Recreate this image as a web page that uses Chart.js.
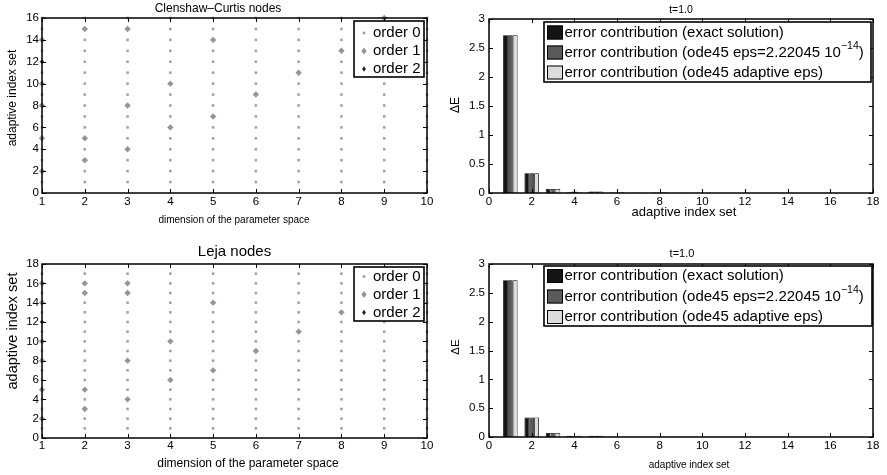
<!DOCTYPE html>
<html><head><meta charset="utf-8">
<script src="https://cdn.jsdelivr.net/npm/chart.js@4.4.0/dist/chart.umd.min.js"></script>
<style>
html,body{margin:0;padding:0;background:#fff}
#wrap{position:relative;width:887px;height:475px;overflow:hidden;background:#fff}
canvas{position:absolute;left:0;top:0}
</style></head><body>
<div id="wrap">
<canvas id="c1" width="887" height="475"></canvas>
<canvas id="c2" width="887" height="475"></canvas>
<canvas id="c3" width="887" height="475"></canvas>
<canvas id="c4" width="887" height="475"></canvas>
</div>
<script>
// ---------------- data ----------------
const dims = [1, 2, 3, 4, 5, 6, 7, 8, 9, 10];
const ccIndexSets = [1, 2, 3, 4, 5, 6, 7, 8, 9, 10, 11, 12, 13, 14, 15, 16];
const lejaIndexSets = [1, 2, 3, 4, 5, 6, 7, 8, 9, 10, 11, 12, 13, 14, 15, 16, 17];
// [dimension, adaptive index] where the multi-index has order 1 / order 2
const ccOrder1 = [[1,2],[2,3],[3,4],[1,5],[2,5],[4,6],[5,7],[1,8],[3,8],[6,9],[1,10],[4,10],[7,11],[8,13],[1,14],[5,14],[2,15],[3,15],[9,16]];
const ccOrder2 = [[1,12]];
const lejaOrder1 = [[1,2],[2,3],[3,4],[1,5],[2,5],[4,6],[5,7],[1,8],[3,8],[6,9],[1,10],[4,10],[7,11],[8,13],[1,14],[5,14],[2,15],[3,15],[1,16],[2,16],[3,16],[9,17]];
const lejaOrder2 = [[1,12]];
const scatterLabels = ['order 0', 'order 1', 'order 2'];

const ccErrExact    = [2.72, 0.34, 0.07, 0.015, 0.025, 0.008, 0.003, 0.008, 0.002, 0.002, 0.002, 0.002, 0.002, 0.002, 0.002, 0.002];
const ccErrOdeEps   = [2.72, 0.34, 0.07, 0.025, 0.025, 0.008, 0.003, 0.008, 0.002, 0.002, 0.002, 0.002, 0.002, 0.002, 0.002, 0.002];
const ccErrOdeAdapt = [2.72, 0.34, 0.07, 0.015, 0.025, 0.012, 0.006, 0.012, 0.003, 0.002, 0.002, 0.002, 0.002, 0.002, 0.002, 0.002];
const lejaErrExact    = [2.72, 0.34, 0.07, 0.02, 0.02, 0.005, 0.003, 0.002, 0.002, 0.002, 0.002, 0.002, 0.002, 0.002, 0.002, 0.002, 0.002];
const lejaErrOdeEps   = [2.72, 0.34, 0.07, 0.015, 0.02, 0.005, 0.003, 0.002, 0.002, 0.002, 0.002, 0.002, 0.002, 0.002, 0.002, 0.002, 0.002];
const lejaErrOdeAdapt = [2.72, 0.34, 0.07, 0.02, 0.02, 0.006, 0.003, 0.003, 0.002, 0.002, 0.002, 0.002, 0.002, 0.002, 0.002, 0.002, 0.002];
const barLabels = ['error contribution (exact solution)', 'error contribution (ode45 eps=2.22045 10^{\u221214})', 'error contribution (ode45 adaptive eps)'];
const barColors = ['#141414', '#5a5a5a', '#dcdcdc'];

// ---------------- helpers ----------------
const FONT = '"Liberation Sans", Arial, Helvetica, sans-serif';
const W = 887, H = 475;

function toPts(list) { return list.map(p => ({x: p[0], y: p[1]})); }
function order0(indexSets, o1, o2) {
  const taken = new Set(o1.concat(o2).map(p => p[0] + ',' + p[1]));
  const pts = [];
  dims.forEach(d => indexSets.forEach(k => { if (!taken.has(d + ',' + k)) pts.push({x: d, y: k}); }));
  return pts;
}

function drawRich(ctx, str, x, y, size) {
  const parts = str.split(/(\^\{[^}]*\})/);
  let cx = x;
  parts.forEach(p => {
    if (!p) return;
    if (p.startsWith('^{')) {
      const s = p.slice(2, -1);
      ctx.font = (size * 0.7) + 'px ' + FONT;
      ctx.fillText(s, cx, y - size * 0.42);
      cx += ctx.measureText(s).width;
    } else {
      ctx.font = size + 'px ' + FONT;
      ctx.fillText(p, cx, y);
      cx += ctx.measureText(p).width;
    }
  });
}

function drawMarker(ctx, kind, x, y) {
  ctx.beginPath();
  if (kind === 0) { ctx.fillStyle = '#a0a0a0'; ctx.rect(x - 1.3, y - 1.3, 2.6, 2.6); }
  else if (kind === 1) { ctx.fillStyle = '#959595'; ctx.moveTo(x, y - 3.6); ctx.lineTo(x + 2.7, y); ctx.lineTo(x, y + 3.6); ctx.lineTo(x - 2.7, y); ctx.closePath(); }
  else { ctx.fillStyle = '#222'; ctx.moveTo(x, y - 2.7); ctx.lineTo(x + 1.9, y); ctx.lineTo(x, y + 2.7); ctx.lineTo(x - 1.9, y); ctx.closePath(); }
  ctx.fill();
}

function decor(cfg) {
  return {
    id: 'decor',
    afterDraw(chart) {
      const ctx = chart.ctx, a = chart.chartArea, xs = chart.scales.x, ys = chart.scales.y;
      ctx.save();
      ctx.strokeStyle = '#000';
      ctx.lineWidth = 1;
      ctx.beginPath();
      xs.ticks.forEach(t => {
        const p = Math.round(xs.getPixelForValue(t.value)) + 0.5;
        ctx.moveTo(p, a.bottom); ctx.lineTo(p, a.bottom - 4);
        ctx.moveTo(p, a.top); ctx.lineTo(p, a.top + 4);
      });
      ys.ticks.forEach(t => {
        const p = Math.round(ys.getPixelForValue(t.value)) + 0.5;
        ctx.moveTo(a.left, p); ctx.lineTo(a.left + 4, p);
        ctx.moveTo(a.right, p); ctx.lineTo(a.right - 4, p);
      });
      ctx.stroke();
      ctx.lineWidth = 1.5;
      ctx.strokeRect(a.left, a.top, a.right - a.left, a.bottom - a.top);
      // texts
      ctx.fillStyle = '#000';
      cfg.texts.forEach(t => {
        ctx.save();
        ctx.font = t.size + 'px ' + FONT;
        ctx.textAlign = 'center'; ctx.textBaseline = 'middle';
        ctx.translate(t.x, t.y);
        if (t.rot) ctx.rotate(t.rot);
        ctx.fillText(t.text, 0, 0);
        ctx.restore();
      });
      // legend
      const L = cfg.legend;
      ctx.fillStyle = '#fff';
      ctx.fillRect(L.x, L.y, L.w, L.h);
      ctx.lineWidth = 1.6; ctx.strokeStyle = '#000';
      ctx.strokeRect(L.x, L.y, L.w, L.h);
      ctx.textAlign = 'left'; ctx.textBaseline = 'middle';
      L.labels.forEach((lab, i) => {
        const ry = L.y + L.row0 + L.dy * i;
        if (L.type === 'scatter') {
          drawMarker(ctx, i, L.x + L.mx, ry);
        } else {
          ctx.fillStyle = barColors[i];
          ctx.fillRect(L.x + 3, ry - 7, 16, 14);
          ctx.lineWidth = 1; ctx.strokeStyle = '#000';
          ctx.strokeRect(L.x + 3.5, ry - 6.5, 15, 13);
        }
        ctx.fillStyle = '#000';
        drawRich(ctx, lab, L.x + L.tx, ry, L.size);
      });
      ctx.restore();
    }
  };
}

function axisCommon(min, max, step, padding) {
  return {
    type: 'linear', min: min, max: max, offset: false,
    ticks: {stepSize: step, autoSkip: false, maxRotation: 0, color: '#000', padding: padding,
            font: {family: FONT, size: 11.5}, callback: v => String(v)},
    grid: {display: false, drawTicks: false, offset: false},
    border: {display: false}
  };
}

function scatterChart(id, area, indexSets, o1, o2, ymax, xPad, texts, legend) {
  const xa = axisCommon(1, 10, 1, xPad);
  xa.afterFit = s => { s.height = 30; };
  const ya = axisCommon(0, ymax, 2, 3);
  ya.afterFit = s => { s.width = area.l; };
  return new Chart(document.getElementById(id), {
    type: 'scatter',
    data: {datasets: [
      {label: scatterLabels[0], data: order0(indexSets, o1, o2), pointStyle: 'rect', pointRadius: 1.8, backgroundColor: '#a0a0a0', borderWidth: 0, clip: false},
      {label: scatterLabels[1], data: toPts(o1), pointStyle: 'rectRot', pointRadius: 3.2, backgroundColor: '#959595', borderWidth: 0, clip: false},
      {label: scatterLabels[2], data: toPts(o2), pointStyle: 'rectRot', pointRadius: 2.3, backgroundColor: '#222', borderWidth: 0, clip: false}
    ]},
    options: {
      responsive: false, animation: false, devicePixelRatio: 1,
      layout: {padding: {left: 0, right: W - area.r, top: area.t, bottom: H - area.b - 30}},
      plugins: {legend: {display: false}, tooltip: {enabled: false}, title: {display: false}},
      scales: {x: xa, y: ya}
    },
    plugins: [decor({texts: texts, legend: Object.assign({type: 'scatter', labels: scatterLabels}, legend)})]
  });
}

function barChart(id, area, indexSets, series, xPad, texts, legend) {
  const xa = axisCommon(0, 18, 2, xPad);
  xa.afterFit = s => { s.height = 30; };
  const ya = axisCommon(0, 3, 0.5, 4);
  ya.afterFit = s => { s.width = 50; };
  return new Chart(document.getElementById(id), {
    type: 'bar',
    data: {datasets: series.map((vals, i) => ({
      label: barLabels[i],
      data: indexSets.map((k, j) => ({x: k, y: vals[j]})),
      backgroundColor: barColors[i], borderColor: '#000', borderWidth: 0.8,
      categoryPercentage: 0.68, barPercentage: 1
    }))},
    options: {
      responsive: false, animation: false, devicePixelRatio: 1,
      layout: {padding: {left: area.l - 50, right: W - area.r, top: area.t, bottom: H - area.b - 30}},
      plugins: {legend: {display: false}, tooltip: {enabled: false}, title: {display: false}},
      scales: {x: xa, y: ya}
    },
    plugins: [decor({texts: texts, legend: Object.assign({type: 'bar', labels: barLabels}, legend)})]
  });
}

const ROT = -Math.PI / 2;

scatterChart('c1', {l: 42, r: 427, t: 18, b: 193}, ccIndexSets, ccOrder1, ccOrder2, 16, 2,
  [{text: 'Clenshaw\u2013Curtis nodes', x: 218, y: 9, size: 12},
   {text: 'dimension of the parameter space', x: 234, y: 220, size: 10},
   {text: 'adaptive index set', x: 12.5, y: 98, size: 12, rot: ROT}],
  {x: 354, y: 21, w: 70, h: 56, row0: 12, dy: 18, mx: 10, tx: 19, size: 15});

barChart('c2', {l: 489, r: 873, t: 19, b: 193}, ccIndexSets, [ccErrExact, ccErrOdeEps, ccErrOdeAdapt], 2,
  [{text: 't=1.0', x: 681, y: 10, size: 10.5},
   {text: 'adaptive index set', x: 684, y: 212, size: 13},
   {text: '\u0394E', x: 456, y: 105, size: 12, rot: ROT}],
  {x: 544, y: 22, w: 327, h: 60, row0: 10.5, dy: 20, tx: 20.5, size: 15});

scatterChart('c3', {l: 42, r: 427, t: 264, b: 438}, lejaIndexSets, lejaOrder1, lejaOrder2, 18, 1,
  [{text: 'Leja nodes', x: 234.5, y: 252, size: 15},
   {text: 'dimension of the parameter space', x: 248, y: 464, size: 12},
   {text: 'adaptive index set', x: 12.5, y: 331, size: 14.5, rot: ROT}],
  {x: 354, y: 267, w: 70, h: 54, row0: 9.5, dy: 18, mx: 10, tx: 19, size: 15});

barChart('c4', {l: 489, r: 873, t: 264, b: 437}, lejaIndexSets, [lejaErrExact, lejaErrOdeEps, lejaErrOdeAdapt], 2,
  [{text: 't=1.0', x: 682, y: 254, size: 11},
   {text: 'adaptive index set', x: 689, y: 465, size: 10},
   {text: '\u0394E', x: 456, y: 347, size: 11.5, rot: ROT}],
  {x: 544, y: 266, w: 328, h: 60, row0: 10, dy: 20.5, tx: 20.5, size: 15});
</script>
</body></html>
